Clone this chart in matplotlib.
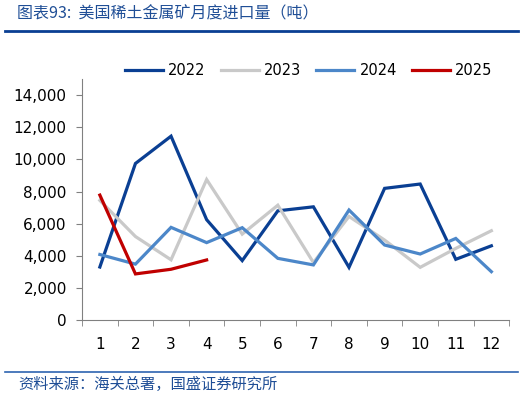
import numpy as np
import matplotlib.pyplot as plt
from matplotlib.lines import Line2D

plt.rcParams['font.family'] = ['DejaVu Sans', 'Noto Sans CJK SC']

# Datos (toneladas)
meses = list(range(1, 13))
v2022 = [3300, 9750, 11450, 6250, 3700, 6800, 7050, 3280, 8200, 8470, 3780, 4620]
v2023 = [7450, 5200, 3750, 8750, 5350, 7150, 3580, 6450, 4980, 3280, 4460, 5560]
v2024 = [4080, 3480, 5770, 4820, 5750, 3840, 3430, 6850, 4670, 4110, 5080, 3010]
v2025 = [7780, 2870, 3160, 3740]

series = [("2022", v2022, "#0A3F93"),
          ("2023", v2023, "#C9C9C9"),
          ("2024", v2024, "#4C87C9"),
          ("2025", v2025, "#C00000")]

fig = plt.figure(figsize=(5.26, 3.98), dpi=100)
ax = fig.add_axes([0.156, 0.196, 0.812, 0.605])

for nombre, vals, color in series:
    ax.plot(meses[:len(vals)], vals, color=color, linewidth=2.3, label=nombre,
            solid_joinstyle='miter')

ax.set_xlim(0.5, 12.5)
ax.set_ylim(0, 15000)
ax.set_yticks(np.arange(0, 14001, 2000))
ax.set_yticklabels([f"{int(v):,}" for v in np.arange(0, 14001, 2000)], fontsize=11)
ax.set_xticks(meses)
ax.set_xticklabels([str(m) for m in meses], fontsize=11)
ax.set_xticks(np.arange(0.5, 12.6, 1), minor=True)
ax.tick_params(axis='x', which='major', length=0, pad=12)
ax.tick_params(axis='x', which='minor', length=4, color='#808080', direction='out')
ax.tick_params(axis='y', length=4, color='#808080', direction='out', pad=7)

for lado in ['top', 'right']:
    ax.spines[lado].set_visible(False)
for lado in ['left', 'bottom']:
    ax.spines[lado].set_color('#808080')
    ax.spines[lado].set_linewidth(0.8)

handles = [Line2D([0], [0], color=c, linewidth=2.3) for _, _, c in series]
fig.legend(handles, [n for n, _, _ in series], loc='center', ncol=4,
           bbox_to_anchor=(0.587, 0.823), frameon=False, fontsize=10.5,
           handlelength=2.6, handletextpad=0.35, columnspacing=1.05)

# Título y fuente
fig.text(0.032, 0.966, "图表93:  美国稀土金属矿月度进口量（吨）", fontsize=11.5,
         color="#1F4E96", va='center', ha='left',
         family=['Noto Sans CJK SC', 'DejaVu Sans'])
fig.add_artist(Line2D([0.01, 0.985], [0.922, 0.922], color="#0A3F93", linewidth=2))
fig.add_artist(Line2D([0.01, 0.985], [0.065, 0.065], color="#2E64B0", linewidth=1.2))
fig.text(0.035, 0.033, "资料来源：海关总署，国盛证券研究所", fontsize=11,
         color="#1F4E96", va='center', ha='left',
         family=['Noto Sans CJK SC', 'DejaVu Sans'])

plt.savefig("out.png", dpi=100)
plt.close()
